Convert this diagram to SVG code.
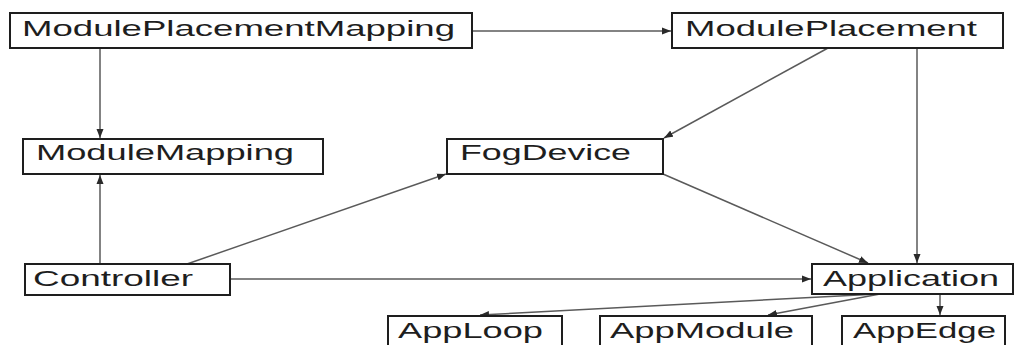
<svg xmlns="http://www.w3.org/2000/svg" width="1016" height="345" viewBox="0 0 1016 345">
  <style>
    .box { fill: #ffffff; stroke: #1e1e1e; stroke-width: 2; }
    .label { font-family: "Liberation Sans", Arial, sans-serif; font-size: 22px; fill: #1e1e1e; }
    .edge { fill: none; stroke: #5a5a5a; stroke-width: 1.5; }
  </style>
  <defs>
    <marker id="arrow" markerUnits="userSpaceOnUse" markerWidth="10" markerHeight="8" refX="9" refY="4" orient="auto">
      <path d="M0,0.5 L9,4 L0,7.5 Z" fill="#2a2a2a"/>
    </marker>
  </defs>
  <rect width="1016" height="345" fill="#ffffff"/>

  <g id="connectors">
    <line class="edge" x1="472" y1="31" x2="671" y2="31" marker-end="url(#arrow)"/>
    <line class="edge" x1="100" y1="48" x2="100" y2="138" marker-end="url(#arrow)"/>
    <line class="edge" x1="100" y1="264" x2="100" y2="175" marker-end="url(#arrow)"/>
    <line class="edge" x1="828" y1="48" x2="664" y2="138" marker-end="url(#arrow)"/>
    <line class="edge" x1="917" y1="48" x2="917" y2="263" marker-end="url(#arrow)"/>
    <line class="edge" x1="187" y1="264" x2="446" y2="174" marker-end="url(#arrow)"/>
    <line class="edge" x1="663" y1="174" x2="868" y2="263" marker-end="url(#arrow)"/>
    <line class="edge" x1="231" y1="279" x2="811" y2="279" marker-end="url(#arrow)"/>
    <line class="edge" x1="878" y1="294" x2="480" y2="315" marker-end="url(#arrow)"/>
    <line class="edge" x1="880" y1="294" x2="768" y2="315" marker-end="url(#arrow)"/>
    <line class="edge" x1="940" y1="294" x2="940" y2="315" marker-end="url(#arrow)"/>
  </g>

  <g id="ModulePlacementMapping">
    <rect class="box" x="10" y="13" width="462" height="35"/>
    <text class="label" x="22" y="36" textLength="433" lengthAdjust="spacingAndGlyphs">ModulePlacementMapping</text>
  </g>
  <g id="ModulePlacement">
    <rect class="box" x="672" y="13" width="331" height="35"/>
    <text class="label" x="685" y="36" textLength="292" lengthAdjust="spacingAndGlyphs">ModulePlacement</text>
  </g>
  <g id="ModuleMapping">
    <rect class="box" x="23" y="139" width="300" height="35"/>
    <text class="label" x="36" y="160" textLength="258" lengthAdjust="spacingAndGlyphs">ModuleMapping</text>
  </g>
  <g id="FogDevice">
    <rect class="box" x="447" y="139" width="216" height="35"/>
    <text class="label" x="460" y="160" textLength="171" lengthAdjust="spacingAndGlyphs">FogDevice</text>
  </g>
  <g id="Controller">
    <rect class="box" x="25" y="264" width="205" height="31"/>
    <text class="label" x="33" y="286" textLength="160" lengthAdjust="spacingAndGlyphs">Controller</text>
  </g>
  <g id="Application">
    <rect class="box" x="812" y="264" width="201" height="30"/>
    <text class="label" x="823" y="286" textLength="176" lengthAdjust="spacingAndGlyphs">Application</text>
  </g>
  <g id="AppLoop">
    <rect class="box" x="388" y="316" width="174" height="40"/>
    <text class="label" x="398" y="338" textLength="145" lengthAdjust="spacingAndGlyphs">AppLoop</text>
  </g>
  <g id="AppModule">
    <rect class="box" x="600" y="316" width="212" height="40"/>
    <text class="label" x="610" y="338" textLength="184" lengthAdjust="spacingAndGlyphs">AppModule</text>
  </g>
  <g id="AppEdge">
    <rect class="box" x="842" y="316" width="163" height="40"/>
    <text class="label" x="853" y="338" textLength="143" lengthAdjust="spacingAndGlyphs">AppEdge</text>
  </g>
</svg>
